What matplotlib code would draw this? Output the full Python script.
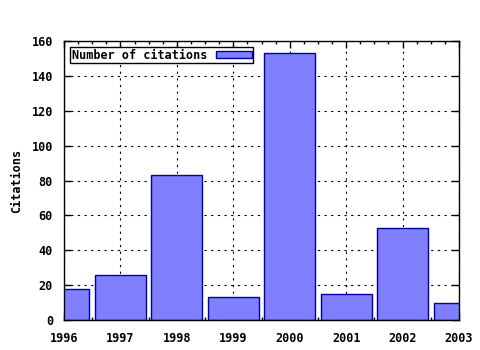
import numpy as np
import matplotlib.pyplot as plt
from matplotlib.ticker import MultipleLocator

years = [1996, 1997, 1998, 1999, 2000, 2001, 2002, 2003]
citations = [18, 26, 83, 13, 153, 15, 53, 10]

plt.rcParams.update({
    'font.family': 'DejaVu Sans Mono',
    'font.weight': 'bold',
    'font.size': 8.5,
})

fig = plt.figure(figsize=(4.8, 3.5), dpi=100)
ax = fig.add_axes([64 / 480, 30 / 350, 395 / 480, 279 / 350])

ax.bar(years, citations, width=0.9, color='#8080ff', edgecolor='#0000a0',
       linewidth=1.0, label='Number of citations', zorder=2)

ax.set_xlim(1996, 2003)
ax.set_ylim(0, 160)
ax.set_xticks(years)
ax.set_yticks(np.arange(0, 161, 20))
ax.xaxis.set_minor_locator(MultipleLocator(0.25))
ax.grid(True, color='black', linestyle=(0, (2, 4)), linewidth=0.8, zorder=1)
ax.set_axisbelow(True)
ax.tick_params(direction='in', top=True, right=True, length=5, width=1)
ax.tick_params(axis='x', pad=9)
ax.tick_params(axis='y', pad=8)
ax.tick_params(which='minor', direction='in', top=True, length=2.5, width=1)
for s in ax.spines.values():
    s.set_linewidth(1.0)

ax.set_ylabel('Citations', fontweight='bold', labelpad=6)

leg = ax.legend(loc='upper left', markerfirst=False, fancybox=False,
                framealpha=1, edgecolor='black', borderpad=0.1,
                handlelength=3.0, handleheight=0.5, borderaxespad=0.55,
                handletextpad=0.8)
leg.get_frame().set_linewidth(1.0)

fig.savefig('out.png', dpi=100)
